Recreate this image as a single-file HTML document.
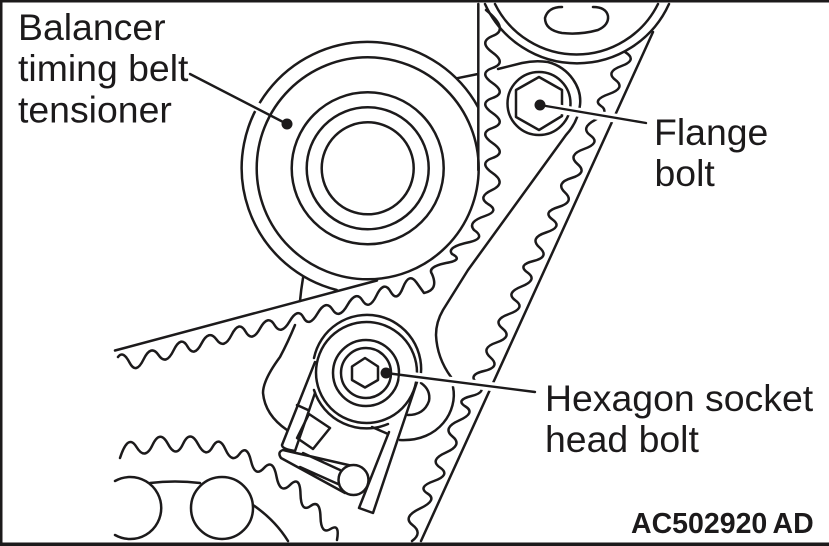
<!DOCTYPE html>
<html><head><meta charset="utf-8"><style>
html,body{margin:0;padding:0;background:#fff;width:829px;height:546px;overflow:hidden}
svg{display:block}
text{font-family:"Liberation Sans",sans-serif;fill:#1c1a1b}
</style></head><body>
<svg width="829" height="546" viewBox="0 0 829 546" xmlns="http://www.w3.org/2000/svg">
<rect width="829" height="546" fill="#fff"/>
<g fill="none" stroke="#1c1a1b" stroke-width="2.5" stroke-linecap="round" stroke-linejoin="round">
<!-- top gear -->
<path d="M485 4A101 101 0 0 0 669 4M495 4A91 91 0 0 0 658 4"/>
<path d="M562 7Q548 7 545 18Q545 30 562 33Q580 35 598 30Q609 25 608 16Q606 7 593 7"/>
<!-- vertical line and tab -->
<path d="M478.3 4V170M456.7 78.3L478 74"/>
<!-- large pulley -->
<path d="M478 107A126 126 0 1 0 336.7 290"/>
<circle cx="367.7" cy="168.3" r="111"/>
<circle cx="367.7" cy="168.3" r="76"/>
<circle cx="367.7" cy="168.3" r="61"/>
<circle cx="367.7" cy="168.3" r="46"/>
<path d="M303 278Q301 290 300 301"/>
<!-- upper belt -->
<path d="M115 350.5L377 280.5"/>
<path d="M486 10Q510 30 492.5 36Q478 42 492.5 52.5Q507 63 492.5 68Q478 73 492.5 83Q507 93 492.5 98Q478 103 492.5 113Q507 123 492.5 128Q478 133 492.5 143Q507 153 492.5 158Q478 163 492.5 173Q507 183 492 190Q477 197 488 204Q500 211 485 216Q467 222 474 230Q486 238 470 242Q446 247 452 254Q464 260 446 263Q427 267 432 274Q439 290 424 293Q424 293 416.5 282.5Q409 272 403 287.5Q397 303 390.5 291.5Q384 280 376.5 295.5Q369 311 362.5 300.5Q356 290 347.5 305Q339 320 332.5 309.5Q326 299 317.5 313.5Q309 328 303.5 317.5Q298 307 289.5 321.5Q281 336 274.5 325Q268 314 260 328.5Q252 343 245.5 331.5Q239 320 231.5 335Q224 350 216.5 339.5Q209 329 201.5 343.5Q194 358 187.5 346.5Q181 335 173.5 350.5Q166 366 158.5 355Q151 344 143.5 359.5Q136 375 129.5 362.5Q123 350 118 357"/>
<!-- flange boss -->
<circle cx="539" cy="103.5" r="31.5"/>
<path d="M539 77L562 90V116L539 130L516 117V90Z"/>
<path d="M498 69L522 63Q535 60 548 62C570 68 582 88 580 105Q578 122 566 135L468 270L443 310Q436 322 436 335Q437 358 451 377"/>
<path d="M453 387C458 410 440 442 400 440"/>
<!-- right belt -->
<path d="M653 32L421 541"/>
<path d="M625 52Q638 60 621.5 66Q605 72 615.5 80Q626 88 609 94Q592 100 601 106Q610 112 595 120Q580 128 590.5 135.5Q601 143 584 149Q567 155 577.5 164Q588 173 571.5 178Q555 183 565 192.5Q575 202 558.5 207Q542 212 552.5 219.5Q563 227 546 232.5Q529 238 539.5 247.5Q550 257 533.5 261Q517 265 527.5 272.5Q538 280 521.5 286.5Q505 293 515.5 300.5Q526 308 509 314Q492 320 502.5 328.5Q513 337 496.5 342.5Q480 348 490.5 357.5Q501 367 484 371Q467 375 477.5 383.5Q488 392 471.5 396Q455 400 465.5 406.5Q476 413 459 420.5Q442 428 452.5 436.5Q463 445 446 452.5Q429 460 440 467.5Q451 475 434 481Q417 487 427.5 493.5Q438 500 420 508.5Q402 517 412.5 525Q423 533 412 541"/>
<!-- bracket -->
<path d="M295 325Q288 342 280 357Q263 380 263 393Q265 415 287 430"/>
<!-- half circle -->
<path d="M421 383Q431 390 429 401Q424 415 408 415"/>
<!-- small tensioner -->
<path d="M314 358A54 54 0 0 1 420 380"/>
<circle cx="366.5" cy="372.5" r="50.5"/>
<path d="M314 390A55 55 0 0 0 388 424"/>
<circle cx="366" cy="373" r="33"/>
<circle cx="366" cy="373" r="25"/>
<path d="M365 358L378 366.5V380L365 387.5L352 380V366.5Z"/>
<!-- straps -->
<path d="M315 362L282 445Q282 449 295 451L315 393"/>
<path d="M297 405L308 410"/>
<path d="M309 414L330 428L313 449L297 438Z"/>
<path d="M417 382L373 513L359 508L389 432"/>
<path d="M372 427L388 434"/>
<!-- link -->
<path d="M283 450Q277 452 281 458L345 493M283 450L357 467M303 453L340 470M300 467L338 484"/>
<circle cx="353.5" cy="480" r="15" fill="#fff"/>
<!-- lower left belt -->
<path d="M120 458Q128 433 136.5 447Q145 461 152.5 445Q160 429 168 444Q176 459 183 444Q190 429 198 444Q206 459 212.5 447Q219 435 225.5 449.5Q232 464 239.5 454Q247 444 251 461Q255 478 264 468Q273 458 276.5 476.5Q280 495 290 485Q300 475 300.5 494Q301 513 310.5 506Q320 499 320.5 517Q321 535 330.5 529Q340 523 337 540"/>
<!-- lower circles -->
<circle cx="222" cy="508" r="31"/>
<path d="M115 481A31 31 0 1 1 115 535"/>
<path d="M150 483Q175 480 200 483M253 505Q275 520 288 541"/>
<!-- leader halos -->
<g stroke="#fff" stroke-width="9" stroke-linecap="butt">
<path d="M230 92L268 113"/>
<path d="M552 108L646 123"/>
<path d="M400 375L535 392"/>
</g>
<!-- leaders -->
<g stroke-width="2.4">
<path d="M190 74L287 124"/>
<path d="M540 105L646 123"/>
<path d="M386 373L535 392"/>
</g>
</g>
<g fill="#1c1a1b">
<circle cx="287" cy="124" r="5.5"/>
<circle cx="540" cy="105" r="5.5"/>
<circle cx="386" cy="373" r="5.5"/>
</g>
<!-- border -->
<g fill="#1c1a1b">
<rect x="0" y="0" width="829" height="2.5"/>
<rect x="0" y="542.5" width="829" height="3.5"/>
<rect x="0" y="0" width="2.5" height="546"/>
</g>
<text x="18" y="40" font-size="37.4">Balancer</text>
<text x="18" y="81" font-size="37.4">timing belt</text>
<text x="18" y="122.5" font-size="37.4">tensioner</text>
<text x="654" y="145" font-size="37.4">Flange</text>
<text x="654.5" y="186" font-size="37.4">bolt</text>
<text x="545" y="411" font-size="37.4">Hexagon socket</text>
<text x="545" y="452" font-size="37.4">head bolt</text>
<text y="533" font-size="28.5" font-weight="bold"><tspan x="631">AC502920</tspan><tspan x="772.5">AD</tspan></text>
</svg>
</body></html>
